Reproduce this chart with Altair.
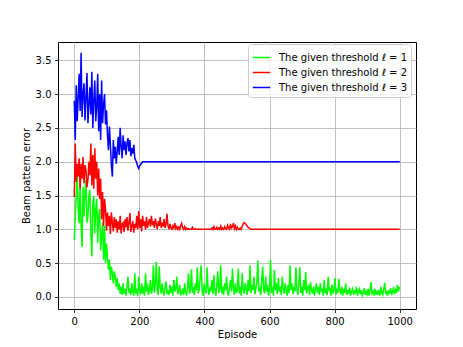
import altair as alt
import pandas as pd

LABELS = ["The given threshold ℓ = 1", "The given threshold ℓ = 2", "The given threshold ℓ = 3"]
COLORS = ["#00ff00", "#ff0000", "#0000ff"]
X_TICKS = [0, 200, 400, 600, 800, 1000]
Y_TICKS = [0.0, 0.5, 1.0, 1.5, 2.0, 2.5, 3.0, 3.5]

# threshold 1 (green), every 3 episodes from 0 to 999
green_episodes = list(range(0, 1000, 3))
green_values = [
    0.84, 1.20, 1.49, 1.85, 1.30, 1.09, 1.68, 1.05, 0.74, 1.63,
    1.19, 1.55, 1.73, 1.10, 1.19, 1.50, 1.58, 0.95, 0.60, 1.40,
    1.49, 0.94, 1.30, 1.45, 0.80, 1.20, 1.30, 0.69, 0.89, 1.10,
    0.55, 1.05, 0.50, 0.79, 0.60, 0.40, 0.55, 0.25, 0.45, 0.35,
    0.20, 0.38, 0.30, 0.15, 0.28, 0.10, 0.20, 0.05, 0.15, 0.03,
    0.20, 0.05, 0.12, 0.02, 0.15, 0.30, 0.06, 0.10, 0.03, 0.20,
    0.08, 0.02, 0.35, 0.05, 0.12, 0.01, 0.30, 0.10, 0.04, 0.20,
    0.05, 0.15, 0.02, 0.35, 0.08, 0.20, 0.03, 0.10, 0.25, 0.05,
    0.12, 0.47, 0.06, 0.18, 0.52, 0.10, 0.03, 0.45, 0.15, 0.05,
    0.20, 0.08, 0.02, 0.15, 0.23, 0.04, 0.10, 0.03, 0.18, 0.06,
    0.15, 0.02, 0.25, 0.08, 0.12, 0.30, 0.04, 0.10, 0.18, 0.02,
    0.06, 0.12, 0.03, 0.20, 0.08, 0.02, 0.15, 0.35, 0.05, 0.10,
    0.41, 0.06, 0.15, 0.03, 0.20, 0.10, 0.44, 0.05, 0.12, 0.30,
    0.47, 0.08, 0.02, 0.20, 0.10, 0.05, 0.44, 0.12, 0.03, 0.15,
    0.08, 0.25, 0.04, 0.32, 0.10, 0.02, 0.18, 0.38, 0.06, 0.12,
    0.47, 0.05, 0.15, 0.03, 0.20, 0.10, 0.30, 0.06, 0.02, 0.14,
    0.25, 0.08, 0.42, 0.12, 0.03, 0.20, 0.06, 0.10, 0.42, 0.05,
    0.15, 0.02, 0.35, 0.10, 0.05, 0.20, 0.12, 0.03, 0.25, 0.08,
    0.47, 0.06, 0.18, 0.10, 0.30, 0.04, 0.12, 0.22, 0.54, 0.08,
    0.15, 0.03, 0.25, 0.45, 0.10, 0.05, 0.30, 0.08, 0.18, 0.02,
    0.12, 0.55, 0.06, 0.15, 0.02, 0.40, 0.10, 0.20, 0.04, 0.28,
    0.08, 0.15, 0.03, 0.30, 0.12, 0.05, 0.20, 0.10, 0.02, 0.18,
    0.06, 0.47, 0.10, 0.20, 0.04, 0.15, 0.08, 0.44, 0.12, 0.03,
    0.20, 0.44, 0.06, 0.15, 0.02, 0.25, 0.10, 0.37, 0.05, 0.12,
    0.18, 0.03, 0.22, 0.10, 0.05, 0.15, 0.02, 0.12, 0.20, 0.06,
    0.15, 0.03, 0.20, 0.08, 0.12, 0.02, 0.25, 0.06, 0.10, 0.03,
    0.30, 0.08, 0.14, 0.02, 0.18, 0.05, 0.10, 0.28, 0.03, 0.12,
    0.06, 0.27, 0.10, 0.04, 0.15, 0.02, 0.12, 0.06, 0.20, 0.03,
    0.10, 0.05, 0.14, 0.02, 0.08, 0.12, 0.03, 0.10, 0.05, 0.15,
    0.02, 0.08, 0.12, 0.04, 0.10, 0.02, 0.06, 0.13, 0.03, 0.08,
    0.04, 0.12, 0.02, 0.10, 0.22, 0.05, 0.08, 0.02, 0.12, 0.05,
    0.08, 0.03, 0.10, 0.02, 0.15, 0.06, 0.03, 0.12, 0.21, 0.04,
    0.08, 0.02, 0.10, 0.05, 0.13, 0.03, 0.07, 0.15, 0.04, 0.10,
    0.06, 0.18, 0.08, 0.15,
]

# threshold 2 (red), every 3 episodes up to 549, then flat
red_episodes = list(range(0, 550, 3)) + [1000]
red_values = [
    1.48, 2.27, 1.70, 1.97, 1.78, 2.05, 1.60, 1.97, 1.75, 2.07,
    1.68, 1.95, 1.88, 1.62, 1.73, 2.00, 1.80, 2.27, 1.65, 2.10,
    1.60, 2.20, 1.75, 2.00, 1.50, 1.90, 1.45, 1.75, 1.15, 1.55,
    1.05, 1.45, 1.30, 0.98, 1.25, 1.05, 1.20, 0.93, 1.25, 1.10,
    0.97, 1.18, 1.02, 1.15, 0.95, 1.12, 1.00, 1.20, 0.94, 1.08,
    1.10, 0.96, 1.15, 1.03, 1.18, 0.98, 1.10, 1.24, 0.96, 1.05,
    1.12, 0.95, 1.08, 1.02, 1.20, 1.00, 1.27, 1.02, 1.15, 0.97,
    1.20, 1.05, 1.12, 1.00, 1.18, 1.02, 1.10, 1.15, 1.04, 1.20,
    1.06, 1.12, 1.02, 1.16, 1.08, 1.00, 1.12, 1.05, 1.18, 1.02,
    1.10, 1.04, 1.15, 1.02, 1.08, 1.23, 1.05, 1.00, 1.08, 1.02,
    1.00, 1.05, 1.02, 1.09, 1.01, 1.04, 1.00, 1.03, 1.00, 1.06,
    1.09, 1.02, 1.00, 1.04, 1.00, 1.02, 1.00, 1.01, 1.00, 1.00,
    1.00, 1.03, 1.00, 1.00, 1.01, 1.00, 1.00, 1.00, 1.00, 1.00,
    1.00, 1.00, 1.00, 1.00, 1.00, 1.00, 1.00, 1.00, 1.00, 1.00,
    1.00, 1.02, 1.00, 1.04, 1.00, 1.00, 1.03, 1.00, 1.02, 1.00,
    1.05, 1.00, 1.02, 1.00, 1.04, 1.01, 1.00, 1.06, 1.02, 1.00,
    1.08, 1.02, 1.04, 1.09, 1.01, 1.05, 1.00, 1.03, 1.00, 1.00,
    1.02, 1.00, 1.05, 1.08, 1.10, 1.09, 1.07, 1.05, 1.03, 1.02,
    1.01, 1.00, 1.00, 1.00,
    1.00,
]

# threshold 3 (blue), every 3 episodes up to 216, then flat
blue_episodes = list(range(0, 217, 3)) + [1000]
blue_values = [
    2.90, 2.32, 3.13, 2.60, 2.95, 3.30, 2.75, 3.61, 2.66, 3.00,
    3.16, 2.61, 2.95, 3.31, 2.57, 2.85, 3.10, 2.70, 3.33, 2.50,
    2.90, 3.20, 2.60, 2.81, 3.30, 2.45, 3.00, 2.32, 3.20, 2.57,
    2.85, 3.00, 2.55, 2.76, 2.40, 2.17, 2.52, 2.25, 1.95, 1.78,
    2.32, 2.05, 2.22, 1.97, 2.15, 2.37, 2.10, 2.50, 2.22, 2.05,
    2.39, 2.17, 2.30, 2.10, 2.27, 2.35, 2.15, 2.32, 2.08, 2.20,
    2.12, 2.25, 2.05, 2.02, 1.98, 1.93, 1.90, 1.94, 1.96, 1.98,
    2.00, 2.00, 2.00,
    2.00,
]

frames = []
for lab, eps, vals in [
    (LABELS[0], green_episodes, green_values),
    (LABELS[1], red_episodes, red_values),
    (LABELS[2], blue_episodes, blue_values),
]:
    frames.append(pd.DataFrame({"episode": eps, "value": vals, "series": lab}))
df = pd.concat(frames, ignore_index=True)

FONT = "DejaVu Sans"

chart = (
    alt.Chart(df)
    .mark_line(strokeWidth=1.5, clip=True)
    .encode(
        x=alt.X(
            "episode:Q",
            scale=alt.Scale(domain=[-50, 1050], nice=False, zero=False),
            axis=alt.Axis(values=X_TICKS, format="d", title="Episode", titlePadding=3),
        ),
        y=alt.Y(
            "value:Q",
            scale=alt.Scale(domain=[-0.178, 3.77], nice=False, zero=False),
            axis=alt.Axis(values=Y_TICKS, format=".1f", title="Beam pattern error", titlePadding=4),
        ),
        color=alt.Color(
            "series:N",
            scale=alt.Scale(domain=LABELS, range=COLORS),
            legend=alt.Legend(
                title=None,
                orient="none",
                legendX=190,
                legendY=2,
                symbolType="stroke",
                symbolSize=300,
                symbolStrokeWidth=1.5,
                labelFontSize=10,
                labelFont=FONT,
                labelColor="black",
                labelOffset=8,
                labelLimit=300,
                padding=4,
                rowPadding=0,
                strokeColor="#cccccc",
                fillColor="rgba(255,255,255,0.8)",
                cornerRadius=3,
            ),
        ),
        detail="series:N",
    )
    .properties(
        width=358,
        height=267,
        autosize=alt.AutoSizeParams(type="none"),
        padding={"left": 50, "top": 34, "right": 39, "bottom": 30},
    )
    .configure_view(stroke="black", strokeWidth=1)
    .configure_axis(
        domain=False,
        grid=True,
        gridColor="#b0b0b0",
        gridWidth=0.8,
        tickColor="black",
        tickSize=3.5,
        tickWidth=0.8,
        labelFont=FONT,
        labelFontSize=10,
        labelColor="black",
        labelPadding=3.5,
        titleFont=FONT,
        titleFontSize=10,
        titleFontWeight="normal",
        titleColor="black",
    )
)

chart.save("out.html", embed_options={"renderer": "svg", "actions": False})
